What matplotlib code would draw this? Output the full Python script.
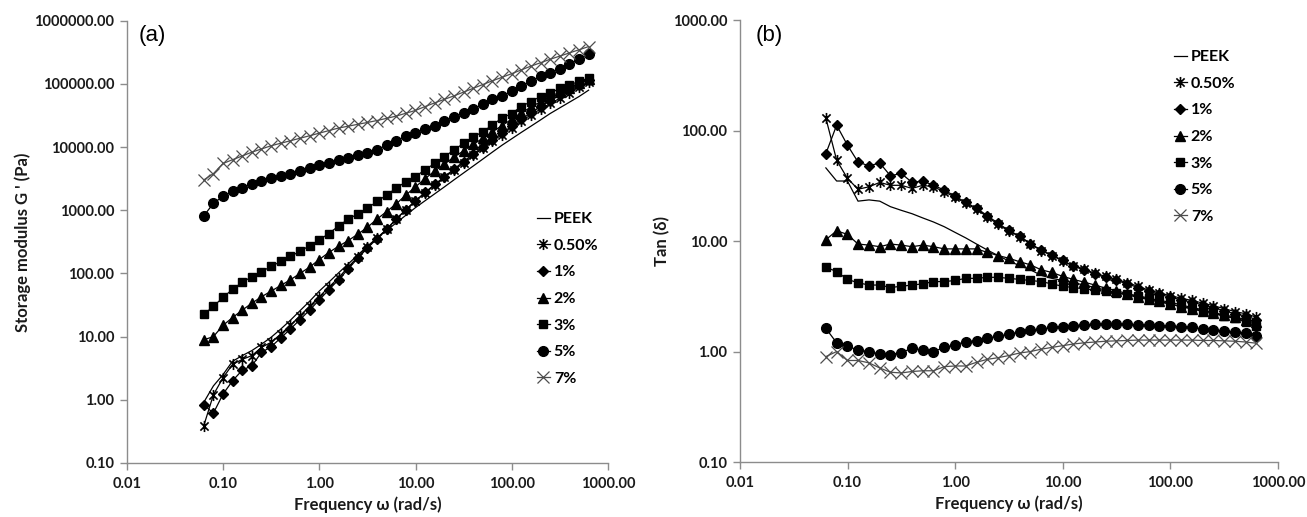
import matplotlib
matplotlib.use("Agg")
import matplotlib.pyplot as plt
from matplotlib.path import Path
from matplotlib.ticker import FixedLocator, FixedFormatter, NullLocator

# ---------------- data ----------------
freq = [0.0628, 0.0791, 0.0996, 0.125, 0.158, 0.199, 0.250, 0.315, 0.397, 0.500,
        0.628, 0.791, 0.996, 1.25, 1.58, 1.99, 2.50, 3.15, 3.97, 5.00,
        6.28, 7.91, 9.96, 12.5, 15.8, 19.9, 25.0, 31.5, 39.7, 50.0,
        62.8, 79.1, 99.6, 125, 158, 199, 250, 315, 397, 500, 628]

labels = ["PEEK", "0.50%", "1%", "2%", "3%", "5%", "7%"]

# (a) storage modulus G' (Pa)
g_peek = [0.912, 1.66, 2.51, 4.07, 5.01, 6.03, 7.59, 9.77, 13.2, 18.2,
          25.7, 36.3, 52.5, 72.4, 102, 141, 195, 269, 363, 479,
          631, 832, 1100, 1410, 1820, 2340, 3020, 3890, 5010, 6460,
          8320, 10700, 13500, 17000, 21400, 26900, 33900, 41700, 51300, 63100, 79400]
g_05 = [0.389, 1.20, 2.24, 3.63, 4.37, 5.01, 6.76, 8.13, 11.0, 15.1,
        21.4, 30.2, 42.7, 60.3, 85.1, 126, 182, 263, 363, 501,
        724, 1020, 1410, 1860, 2510, 3310, 4270, 5620, 7410, 9550,
        12300, 15800, 20400, 25700, 32400, 39800, 49000, 58900, 72400, 89100, 107000]
g_1 = [0.832, 0.617, 1.23, 2.00, 2.95, 3.47, 5.62, 6.92, 9.55, 13.2,
       18.6, 26.3, 38.0, 55.0, 79.4, 117, 174, 251, 355, 501,
       724, 1020, 1410, 1910, 2570, 3390, 4470, 5890, 7760, 10000,
       12900, 16600, 21400, 27500, 34700, 43700, 53700, 66100, 81300, 97700, 117000]
g_2 = [8.91, 10.0, 15.1, 20.0, 26.3, 33.9, 42.7, 52.5, 64.6, 79.4,
       100, 126, 166, 214, 269, 331, 417, 537, 724, 955,
       1260, 1740, 2340, 3160, 4170, 5370, 6920, 8710, 11000, 13800,
       17400, 21900, 27500, 34700, 42700, 52500, 63100, 74100, 87100, 102000, 120000]
g_3 = [22.4, 30.2, 41.7, 56.2, 72.4, 89.1, 107, 129, 155, 186,
       224, 275, 339, 427, 562, 724, 871, 1070, 1380, 1740,
       2240, 2820, 3390, 4370, 5500, 7080, 8910, 11500, 14500, 17400,
       22400, 28800, 33900, 43700, 52500, 63100, 70800, 85100, 95500, 110000, 123000]
g_5 = [813, 1290, 1660, 2000, 2290, 2630, 2950, 3240, 3470, 3800,
       4170, 4680, 5130, 5620, 6170, 6760, 7410, 8130, 9120, 10700,
       12600, 14800, 17000, 19100, 21900, 25700, 30200, 34700, 39800, 47900,
       57500, 64600, 75900, 91200, 110000, 132000, 151000, 174000, 204000, 245000, 302000]
g_7 = [3020, 3800, 5500, 6310, 7240, 8320, 9330, 10500, 11500, 12600,
       13800, 15100, 16600, 18200, 20000, 21400, 22900, 24500, 26300, 28500,
       30900, 34300, 38000, 43700, 50100, 56900, 64600, 74100, 85100, 97700,
       112000, 127000, 145000, 166000, 191000, 216000, 245000, 275000, 309000, 347000, 389000]

# (b) tan(delta)
t_peek = [46, 35, 35, 23, 23.6, 23, 20.5, 19, 17.7, 16.2,
          14.9, 13.5, 12, 10.7, 9.4, 8.3, 7.4, 6.6, 6.0, 5.5,
          4.9, 4.6, 4.4, 4.2, 4.0, 3.8, 3.6, 3.4, 3.25, 3.1,
          2.95, 2.8, 2.7, 2.55, 2.45, 2.3, 2.2, 2.1, 2.0, 1.9, 1.8]
t_05 = [130, 54, 37, 29.5, 31, 34, 32, 32, 30, 32,
        31, 28, 25, 22, 19.4, 16.6, 14.2, 12.3, 11.0, 9.4,
        8.2, 7.4, 6.6, 6.0, 5.6, 5.1, 4.8, 4.5, 4.2, 3.9,
        3.6, 3.4, 3.2, 3.05, 2.9, 2.75, 2.6, 2.45, 2.3, 2.2, 2.05]
t_1 = [62, 112, 74, 52, 48, 51, 39, 41, 34, 35,
       32, 29, 25.5, 22.5, 19.8, 17, 14.5, 12.5, 11.1, 9.5,
       8.3, 7.5, 6.7, 5.9, 5.5, 5.0, 4.7, 4.4, 4.1, 3.8,
       3.5, 3.3, 3.1, 2.95, 2.8, 2.65, 2.5, 2.35, 2.2, 2.1, 1.95]
t_2 = [10.3, 12.4, 11.5, 9.4, 9.2, 8.9, 9.4, 9.2, 8.9, 9.2,
       8.9, 8.5, 8.5, 8.5, 8.5, 7.9, 7.4, 7.0, 6.5, 6.1,
       5.5, 5.2, 4.8, 4.5, 4.25, 4.0, 3.75, 3.55, 3.35, 3.15,
       3.0, 2.85, 2.7, 2.55, 2.45, 2.35, 2.25, 2.15, 2.05, 1.95, 1.85]
t_3 = [5.8, 5.3, 4.5, 4.2, 4.0, 4.0, 3.8, 3.9, 4.0, 4.1,
       4.3, 4.3, 4.4, 4.6, 4.6, 4.7, 4.7, 4.6, 4.5, 4.4,
       4.3, 4.1, 3.9, 3.8, 3.7, 3.6, 3.5, 3.4, 3.3, 3.2,
       3.05, 2.9, 2.8, 2.65, 2.5, 2.4, 2.25, 2.1, 2.0, 1.85, 1.72]
t_5 = [1.62, 1.2, 1.12, 1.03, 1.0, 0.95, 0.94, 0.98, 1.07, 1.03,
       1.0, 1.09, 1.15, 1.23, 1.25, 1.32, 1.38, 1.43, 1.51, 1.57,
       1.59, 1.66, 1.68, 1.72, 1.74, 1.76, 1.77, 1.77, 1.76, 1.75,
       1.73, 1.72, 1.70, 1.68, 1.66, 1.60, 1.57, 1.53, 1.50, 1.46, 1.37]
t_7 = [0.90, 1.0, 0.83, 0.83, 0.79, 0.71, 0.65, 0.64, 0.66, 0.67,
       0.67, 0.73, 0.74, 0.74, 0.80, 0.85, 0.88, 0.92, 0.97, 1.0,
       1.05, 1.09, 1.13, 1.17, 1.2, 1.22, 1.24, 1.25, 1.26, 1.27,
       1.27, 1.27, 1.27, 1.27, 1.27, 1.26, 1.26, 1.25, 1.24, 1.22, 1.19]

x_ticks = [0.01, 0.1, 1, 10, 100, 1000]
x_ticklabels = ["0.01", "0.10", "1.00", "10.00", "100.00", "1000.00"]
ya_ticks = [0.1, 1, 10, 100, 1000, 10000, 100000, 1000000]
ya_ticklabels = ["0.10", "1.00", "10.00", "100.00", "1000.00", "10000.00", "100000.00", "1000000.00"]
yb_ticks = [0.1, 1, 10, 100, 1000]
yb_ticklabels = ["0.10", "1.00", "10.00", "100.00", "1000.00"]

# ---------------- style ----------------
FONT = ["Lato", "DejaVu Sans"]
plt.rcParams["font.family"] = FONT

star = Path([(-1, -1), (1, 1), (-1, 1), (1, -1), (0, -1.35), (0, 1.35)],
            [Path.MOVETO, Path.LINETO, Path.MOVETO, Path.LINETO, Path.MOVETO, Path.LINETO])

styles = [
    dict(marker=None, color="black"),
    dict(marker=star, ms=8, mfc="none", mec="black", mew=1.2, color="black"),
    dict(marker="D", ms=5.5, mfc="black", mec="black", color="black"),
    dict(marker="^", ms=7, mfc="black", mec="black", color="black"),
    dict(marker="s", ms=5.5, mfc="black", mec="black", color="black"),
    dict(marker="o", ms=7, mfc="black", mec="black", color="black"),
    dict(marker="x", ms=8.5, mfc="none", mec="#4d4d4d", mew=0.9, color="#4d4d4d"),
]

W, H = 1307, 517
fig = plt.figure(figsize=(W / 100, H / 100), dpi=100)


def add_axes_px(left, right, top, bottom):
    return fig.add_axes([left / W, 1 - bottom / H, (right - left) / W, (bottom - top) / H])


axa = add_axes_px(127, 608, 20.7, 463)
axb = add_axes_px(740, 1278, 20.2, 462)


def setup(ax, ylim, yt, ytl, ylabel):
    ax.set_xscale("log")
    ax.set_yscale("log")
    ax.set_xlim(0.01, 1000)
    ax.set_ylim(*ylim)
    for s in ("top", "right"):
        ax.spines[s].set_visible(False)
    for s in ("left", "bottom"):
        ax.spines[s].set_color("#8c8c8c")
        ax.spines[s].set_linewidth(1.0)
    ax.xaxis.set_major_locator(FixedLocator(x_ticks))
    ax.xaxis.set_major_formatter(FixedFormatter(x_ticklabels))
    ax.yaxis.set_major_locator(FixedLocator(yt))
    ax.yaxis.set_major_formatter(FixedFormatter(ytl))
    ax.xaxis.set_minor_locator(NullLocator())
    ax.yaxis.set_minor_locator(NullLocator())
    ax.tick_params(axis="both", which="major", direction="out", length=5, width=1,
                   color="#8c8c8c", labelsize=10.5, pad=4)
    ax.tick_params(axis="x", pad=5)
    for t in ax.get_xticklabels() + ax.get_yticklabels():
        t.set_fontweight("bold")
        t.set_color("#1a1a1a")
    ax.set_xlabel("Frequency ω (rad/s)", fontsize=12, fontweight="bold", labelpad=4,
                  color="#1a1a1a")
    ax.set_ylabel(ylabel, fontsize=12, fontweight="bold", color="#1a1a1a")


setup(axa, (0.1, 1e6), ya_ticks, ya_ticklabels, "Storage modulus G ' (Pa)")
setup(axb, (0.1, 1000), yb_ticks, yb_ticklabels, "Tan (δ)")
axa.yaxis.set_label_coords(-0.2, 0.5)
axb.yaxis.set_label_coords(-0.13, 0.5)

series_a = [g_peek, g_05, g_1, g_2, g_3, g_5, g_7]
series_b = [t_peek, t_05, t_1, t_2, t_3, t_5, t_7]

for ax, series in ((axa, series_a), (axb, series_b)):
    for lab, vals, st in zip(labels, series, styles):
        kw = dict(st)
        color = kw.pop("color")
        ax.plot(freq, vals, color=color, lw=0.9, label=lab, **kw)

legend_kw = dict(frameon=False, handlelength=0.8, handletextpad=0.25, labelspacing=0.78,
                 borderpad=0, borderaxespad=0, loc="upper left",
                 prop=dict(family=FONT, weight="bold", size=11.5),
                 bbox_transform=fig.transFigure)
axa.legend(bbox_to_anchor=(537 / W, 1 - 212 / H), **legend_kw)
axb.legend(bbox_to_anchor=(1174 / W, 1 - 50 / H), **legend_kw)

fig.text(139 / W, 1 - 35 / H, "(a)", fontsize=16, family=["Liberation Sans", "DejaVu Sans"],
         va="center", ha="left")
fig.text(756 / W, 1 - 35 / H, "(b)", fontsize=16, family=["Liberation Sans", "DejaVu Sans"],
         va="center", ha="left")

fig.savefig("out.png", dpi=100, facecolor="white")
